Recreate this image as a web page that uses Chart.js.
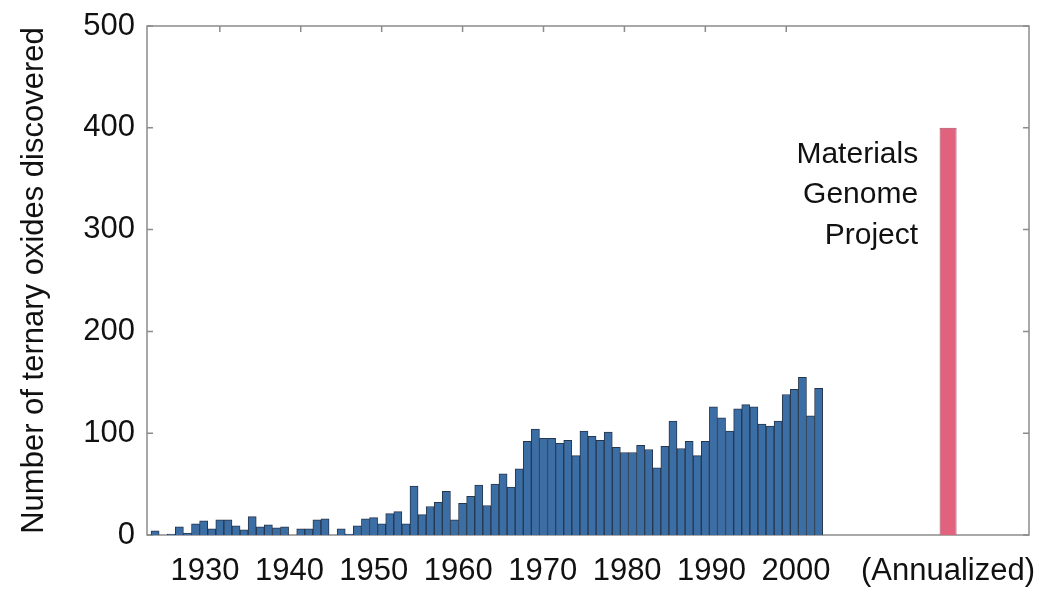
<!DOCTYPE html>
<html>
<head>
<meta charset="utf-8">
<script src="https://cdn.jsdelivr.net/npm/chart.js@4/dist/chart.umd.min.js"></script>
<style>
  html, body { margin: 0; padding: 0; background: #ffffff; }
  #wrap { width: 1048px; height: 589px; }
</style>
</head>
<body>
<div id="wrap"><canvas id="oxideChart"></canvas></div>
<script>
// 每年发现的三元氧化物数量 (1922 - 2004)
const years = [
  1922, 1923, 1924, 1925, 1926, 1927, 1928, 1929, 1930, 1931,
  1932, 1933, 1934, 1935, 1936, 1937, 1938, 1939, 1940, 1941,
  1942, 1943, 1944, 1945, 1946, 1947, 1948, 1949, 1950, 1951,
  1952, 1953, 1954, 1955, 1956, 1957, 1958, 1959, 1960, 1961,
  1962, 1963, 1964, 1965, 1966, 1967, 1968, 1969, 1970, 1971,
  1972, 1973, 1974, 1975, 1976, 1977, 1978, 1979, 1980, 1981,
  1982, 1983, 1984, 1985, 1986, 1987, 1988, 1989, 1990, 1991,
  1992, 1993, 1994, 1995, 1996, 1997, 1998, 1999, 2000, 2001,
  2002, 2003, 2004
];
const oxidesFound = [
  4, 0, 1, 8, 2, 11, 14, 6, 15, 15,
  9, 5, 18, 8, 10, 7, 8, 0, 6, 6,
  15, 16, 0, 6, 1, 9, 16, 17, 11, 21,
  23, 11, 48, 20, 28, 32, 43, 15, 31, 38,
  49, 29, 50, 60, 47, 65, 92, 104, 95, 95,
  90, 93, 78, 102, 97, 93, 101, 86, 81, 81,
  88, 84, 66, 87, 112, 85, 92, 78, 92, 126,
  115, 102, 124, 128, 126, 109, 107, 112, 138, 143,
  155, 117, 144
];

// Materials Genome Project (annualized)
const mgpYears = [2020];
const mgpValues = [400];

// 坐标轴刻度
const yTicks = [0, 100, 200, 300, 400, 500];
const decadeTicks = [1930, 1940, 1950, 1960, 1970, 1980, 1990, 2000];
const bottomLabelValues = [1930, 1940, 1950, 1960, 1970, 1980, 1990, 2000, 2018];
const bottomLabelTexts = ['1930', '1940', '1950', '1960', '1970', '1980', '1990', '2000', '(Annualized)'];
const noteLines = ['Materials', 'Genome', 'Project'];

const FONT = '"Liberation Sans", Arial, sans-serif';
const FRAME = '#8c8c8c';

// 边框 + 内向刻度 + 注释文字
const framePlugin = {
  id: 'frameTicks',
  beforeDatasetsDraw(chart) {
    const { ctx, chartArea: a, scales } = chart;
    const tick = 6;
    ctx.save();
    ctx.strokeStyle = FRAME;
    ctx.lineWidth = 1.5;
    ctx.strokeRect(a.left, a.top, a.right - a.left, a.bottom - a.top);
    ctx.beginPath();
    yTicks.forEach(v => {
      const py = scales.y.getPixelForValue(v);
      ctx.moveTo(a.left, py); ctx.lineTo(a.left + tick, py);
      ctx.moveTo(a.right, py); ctx.lineTo(a.right - tick, py);
    });
    decadeTicks.forEach(v => {
      const px = scales.x.getPixelForValue(v);
      ctx.moveTo(px, a.top); ctx.lineTo(px, a.top + tick);
      ctx.moveTo(px, a.bottom); ctx.lineTo(px, a.bottom - tick);
    });
    ctx.stroke();
    ctx.restore();
  },
  afterDatasetsDraw(chart) {
    const { ctx, scales } = chart;
    ctx.save();
    ctx.fillStyle = '#111111';
    ctx.font = '30px ' + FONT;
    ctx.textAlign = 'right';
    ctx.textBaseline = 'middle';
    const xr = scales.x.getPixelForValue(2016.3);
    const yStart = scales.y.getPixelForValue(374);
    noteLines.forEach((t, i) => ctx.fillText(t, xr, yStart + i * 40.5));
    ctx.restore();
  }
};

new Chart(document.getElementById('oxideChart').getContext('2d'), {
  type: 'bar',
  data: {
    datasets: [
      {
        label: 'Ternary oxides',
        data: years.map((yr, i) => ({ x: yr, y: oxidesFound[i] })),
        backgroundColor: '#3c6ea6',
        borderColor: '#27374b',
        borderWidth: 1,
        borderSkipped: 'start',
        barPercentage: 1,
        categoryPercentage: 1,
        grouped: false,
        xAxisID: 'x'
      },
      {
        label: 'Materials Genome Project',
        data: mgpYears.map((yr, i) => ({ x: yr, y: mgpValues[i] })),
        backgroundColor: '#e0627c',
        borderColor: '#a84a60',
        borderWidth: 1,
        borderSkipped: 'start',
        barPercentage: 2.1,
        categoryPercentage: 1,
        grouped: false,
        xAxisID: 'x'
      }
    ]
  },
  options: {
    responsive: true,
    maintainAspectRatio: false,
    animation: false,
    layout: { padding: { top: 26, right: 19, left: 0, bottom: 0 } },
    plugins: {
      legend: { display: false },
      tooltip: { enabled: false }
    },
    scales: {
      x: {
        type: 'linear',
        display: false,
        offset: false,
        grid: { offset: false },
        min: 1921,
        max: 2030
      },
      xLabels: {
        type: 'linear',
        position: 'bottom',
        offset: false,
        min: 1923.13,
        max: 2027.6,
        grid: { display: false, drawTicks: false, offset: false },
        border: { display: false },
        afterBuildTicks: (scale) => {
          scale.ticks = bottomLabelValues.map(v => ({ value: v }));
        },
        afterFit: (scale) => {
          scale.height = 54;
          scale.paddingLeft = 0;
          scale.paddingRight = 0;
        },
        ticks: {
          autoSkip: false,
          maxRotation: 0,
          padding: 18,
          color: '#111111',
          font: { family: FONT, size: 31 },
          callback: (value) => {
            const i = bottomLabelValues.indexOf(value);
            return i >= 0 ? bottomLabelTexts[i] : '';
          }
        }
      },
      y: {
        min: 0,
        max: 500,
        position: 'left',
        grid: { display: false, drawTicks: false },
        border: { display: false },
        afterFit: (scale) => {
          scale.width = 147;
          scale.paddingTop = 0;
          scale.paddingBottom = 0;
        },
        afterBuildTicks: (scale) => {
          scale.ticks = yTicks.map(v => ({ value: v }));
        },
        ticks: {
          padding: 12,
          color: '#111111',
          font: { family: FONT, size: 31 }
        },
        title: {
          display: true,
          text: 'Number of ternary oxides discovered',
          color: '#111111',
          font: { family: FONT, size: 31 },
          padding: { top: 16, bottom: 0 }
        }
      }
    }
  },
  plugins: [framePlugin]
});
</script>
</body>
</html>
